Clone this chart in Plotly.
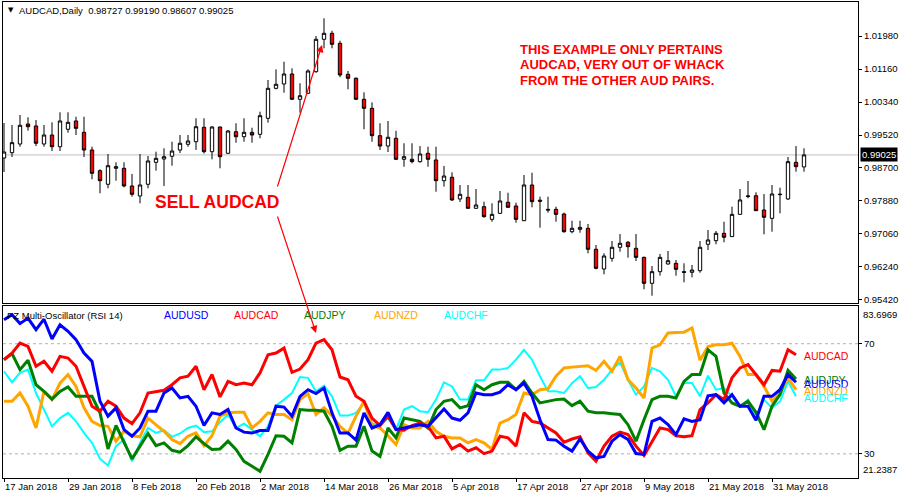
import plotly.graph_objects as go
import pandas as pd

# ---------------- data ----------------
dates = pd.bdate_range("2018-01-17", periods=101)
bar = list(range(len(dates)))

opens = [0.98948,0.99080,0.99296,0.99793,0.99744,0.99296,0.99520,0.99229,0.99662,0.99868,
         0.99587,0.99147,0.98633,0.98295,0.98692,0.98692,0.98253,0.98004,0.98295,0.98841,
         0.98923,0.98991,0.99147,0.99289,0.99353,0.99711,0.99105,0.99719,0.99065,0.99602,
         0.99478,0.99587,0.99537,0.99935,1.00680,1.00787,1.01036,1.00407,1.00556,1.01093,
         1.01898,1.02047,1.01799,1.01028,1.00929,1.00407,1.00183,0.99503,0.99246,0.99438,
         0.98916,0.98916,0.98857,0.99065,0.98899,0.98384,0.98469,0.97930,0.97971,0.97698,
         0.97739,0.97424,0.97573,0.97848,0.97756,0.97390,0.98277,0.97900,0.97673,0.97673,
         0.97557,0.97117,0.97176,0.97201,0.96680,0.96190,0.96455,0.96729,0.96854,0.96704,
         0.96480,0.95834,0.96123,0.96314,0.96331,0.96123,0.96108,0.96148,0.96804,0.96894,
         0.97077,0.96995,0.97548,0.97991,0.98011,0.97656,0.97449,0.98037,0.97930,0.98841,
         0.98727]
highs = [0.99818,0.99769,1.00017,0.99960,0.99893,0.99769,0.99835,1.00084,1.00084,0.99975,
         0.99975,0.99229,0.98668,0.99048,0.98841,0.98841,0.98551,0.99048,0.98998,0.99105,
         0.99189,0.99353,0.99520,0.99520,0.99935,0.99935,0.99744,0.99726,0.99644,0.99811,
         0.99935,0.99701,1.00099,1.00887,1.01152,1.01341,1.01177,1.00805,1.01152,1.01980,
         1.02420,1.02112,1.01863,1.01111,1.00954,1.00581,1.00332,0.99811,0.99868,0.99624,
         0.99314,0.99314,0.99246,0.99229,0.99229,0.98750,0.98593,0.98277,0.98277,0.98178,
         0.97863,0.97822,0.98128,0.98086,0.97838,0.98526,0.98583,0.97987,0.97987,0.97739,
         0.97589,0.97390,0.97390,0.97308,0.96786,0.96580,0.96886,0.97059,0.96886,0.97059,
         0.96496,0.96265,0.96563,0.96637,0.96414,0.96331,0.96290,0.96886,0.97159,0.97134,
         0.97365,0.97739,0.98178,0.98377,0.98096,0.98054,0.98277,0.98210,0.98973,0.99246,
         0.99190]
lows = [0.98600,0.98973,0.99229,0.99627,0.99246,0.99229,0.99122,0.99122,0.99577,0.99520,
        0.98973,0.98419,0.98071,0.98195,0.98384,0.98220,0.97987,0.97822,0.98195,0.98633,
        0.98253,0.98757,0.99073,0.99229,0.99147,0.99060,0.98916,0.98692,0.99060,0.99329,
        0.99353,0.99329,0.99438,0.99826,1.00655,1.00571,1.00390,1.00074,1.00539,1.01068,
        1.01674,1.01674,1.00954,1.00655,1.00390,0.99662,0.99353,0.99147,0.99097,0.98899,
        0.98732,0.98816,0.98832,0.98732,0.98111,0.98236,0.97880,0.97855,0.97681,0.97686,
        0.97465,0.97365,0.97561,0.97711,0.97340,0.97383,0.97723,0.97217,0.97589,0.97365,
        0.97092,0.97077,0.97092,0.96580,0.96182,0.96058,0.96372,0.96620,0.96471,0.96389,
        0.95685,0.95526,0.96024,0.96302,0.96024,0.95859,0.95983,0.96098,0.96662,0.96804,
        0.96854,0.96987,0.97536,0.97947,0.97639,0.97052,0.97117,0.97574,0.97905,0.98608,
        0.98607]
closes = [0.99097,0.99329,0.99761,0.99726,0.99314,0.99520,0.99229,0.99868,0.99835,0.99686,
          0.99147,0.98568,0.98384,0.98757,0.98732,0.98253,0.98046,0.98277,0.98874,0.98940,
          0.98981,0.99122,0.99314,0.99371,0.99726,0.99105,0.99719,0.98981,0.99619,0.99478,
          0.99587,0.99520,1.00000,1.00680,1.00780,1.01036,1.00407,1.00496,1.01111,1.01898,
          1.02047,1.01774,1.01011,1.00929,1.00407,1.00183,0.99503,0.99246,0.99463,0.98916,
          0.98981,0.98857,0.99048,0.98916,0.98384,0.98501,0.97905,0.98046,0.97698,0.97780,
          0.97490,0.97548,0.97880,0.97723,0.97424,0.98277,0.97863,0.97875,0.97656,0.97548,
          0.97117,0.97201,0.97225,0.96680,0.96207,0.96513,0.96729,0.96829,0.96745,0.96480,
          0.95834,0.96123,0.96480,0.96396,0.96182,0.96108,0.96165,0.96729,0.96911,0.97077,
          0.96978,0.97548,0.97905,0.98004,0.97639,0.97475,0.98054,0.98046,0.98857,0.98732,
          0.99025]

rsi_audusd = [78.7,80.5,77.3,79.3,75.1,78.9,71.7,76.9,74.5,71.5,
              66.6,63.6,49.1,43.7,46.7,38.8,36.4,39.4,45.5,45.5,
              52.1,53.9,50.3,50.9,47.3,40.3,44.9,44.3,46.1,39.4,
              37.9,37.6,38.5,38.5,47.3,47.0,43.7,50.9,53.3,51.9,
              53.9,44.9,37.6,37.6,35.0,44.9,39.4,40.6,45.1,38.8,
              39.4,40.0,40.6,40.0,43.0,46.3,43.0,42.2,44.9,52.1,
              51.5,51.5,52.4,55.1,53.3,55.7,50.9,42.4,35.2,35.0,
              32.8,31.0,35.4,31.0,28.5,29.1,34.6,37.0,35.2,30.1,
              29.8,41.8,43.0,40.6,37.0,42.7,41.8,42.4,51.1,51.5,
              48.5,51.5,47.3,47.3,42.2,50.9,50.9,53.3,58.8,56.0]
rsi_audcad = [64.2,66.6,70.2,69.0,61.8,63.6,60.0,65.4,64.8,61.8,
              54.5,47.3,45.5,49.1,47.3,43.0,41.0,44.9,52.1,52.7,
              53.1,55.1,57.6,58.2,61.8,53.3,58.8,50.7,56.3,55.1,
              55.7,55.1,59.4,66.0,66.6,68.4,59.6,60.8,64.2,70.2,
              71.5,67.8,57.9,56.9,50.9,49.1,43.0,40.3,43.7,38.8,
              38.6,40.3,41.2,40.0,35.8,36.4,31.8,33.4,31.0,32.2,
              30.1,31.0,36.4,35.8,32.8,44.9,41.8,41.2,39.4,37.6,
              34.2,35.4,36.2,30.4,27.3,32.8,36.4,37.9,37.0,32.8,
              29.4,34.6,39.4,38.8,36.6,36.2,36.6,46.1,48.5,51.5,
              49.7,57.6,61.2,62.4,58.8,55.1,60.3,60.0,67.8,66.0]
rsi_audjpy = [64.2,66.4,60.6,64.0,55.1,52.7,49.9,52.7,54.3,50.9,
              50.9,50.9,44.9,31.8,40.3,34.0,28.2,32.8,37.4,33.0,
              34.0,31.3,30.6,33.0,36.2,33.7,31.6,31.8,34.6,31.6,
              27.3,25.5,23.7,29.8,36.6,36.4,34.0,46.1,45.8,45.8,
              45.5,40.0,31.3,32.8,32.8,40.0,31.0,29.1,39.4,35.8,
              43.0,42.4,41.8,39.4,46.1,49.1,49.7,46.7,47.5,55.1,
              53.3,55.1,56.0,56.0,53.3,56.3,52.1,48.5,49.1,49.7,
              49.9,47.5,49.1,45.5,44.9,44.9,44.6,44.3,40.6,34.6,
              42.4,49.7,50.9,50.9,50.3,56.3,58.8,58.8,67.8,65.4,
              52.1,48.5,47.3,49.1,45.1,38.8,47.3,51.5,60.3,57.2]
rsi_audnzd = [49.1,49.1,52.1,47.3,39.4,52.7,49.7,55.7,58.8,54.5,
              46.7,41.8,40.3,40.0,34.6,38.2,36.6,36.2,43.0,40.6,
              38.2,35.2,33.7,36.4,37.6,33.0,36.6,43.7,44.9,45.1,
              45.1,39.4,41.8,44.9,44.3,44.3,42.4,49.7,51.9,44.3,
              46.7,43.9,40.0,37.4,43.7,49.1,40.3,39.4,36.6,33.4,
              40.6,39.4,39.4,41.8,38.2,36.4,35.8,35.8,34.0,35.2,
              34.0,31.6,41.2,42.4,44.3,52.1,51.5,53.3,53.6,58.2,
              61.2,61.5,61.8,62.0,60.3,63.6,60.0,65.4,56.9,53.9,
              50.3,68.4,69.6,73.9,74.1,74.2,75.7,64.0,69.0,69.6,
              69.6,70.2,65.4,58.8,58.8,54.5,49.1,52.1,57.6,53.3]
rsi_audchf = [60.0,56.0,59.4,60.6,52.1,46.1,40.0,43.0,44.9,41.8,
              37.6,34.0,28.2,25.8,32.8,35.2,27.3,34.0,39.4,37.6,
              38.6,36.2,37.4,39.4,40.3,37.9,38.2,41.5,44.3,39.4,
              41.0,38.8,36.4,40.0,47.5,49.7,52.1,57.9,57.6,52.7,
              54.8,50.9,43.9,43.9,44.9,48.5,41.0,40.3,43.0,38.8,
              46.1,47.3,45.5,45.1,49.7,56.0,54.5,49.7,49.7,56.7,
              56.7,60.6,60.6,61.2,64.2,67.8,64.2,58.2,52.7,52.7,
              52.1,55.7,58.2,53.9,54.3,56.9,60.6,63.2,56.9,51.5,
              54.5,61.2,60.0,56.9,50.9,55.7,55.7,50.9,58.4,53.3,
              53.9,50.9,47.0,49.7,43.7,49.7,46.7,49.1,56.3,50.9]

series_names = ["AUDUSD", "AUDCAD", "AUDJPY", "AUDNZD", "AUDCHF"]
series_colors = ["#0000FF", "#FF0000", "#008000", "#FFA500", "#00FFFF"]
series_values = [rsi_audusd, rsi_audcad, rsi_audjpy, rsi_audnzd, rsi_audchf]

tick_idx = [0, 8, 16, 24, 32, 40, 48, 56, 64, 72, 80, 88, 96]
tick_labels = ["17 Jan 2018", "29 Jan 2018", "8 Feb 2018", "20 Feb 2018", "2 Mar 2018",
               "14 Mar 2018", "26 Mar 2018", "5 Apr 2018", "17 Apr 2018", "27 Apr 2018",
               "9 May 2018", "21 May 2018", "31 May 2018"]
price_ticks = [0.95420, 0.96240, 0.97060, 0.97880, 0.98700, 0.99520, 1.00340, 1.01160, 1.01980]
osc_min, osc_max = 21.2387, 83.6969
last_price = 0.99025

# ---------------- layout helpers ----------------
W, H = 900, 500
ML, MR, MT, MB = 3, 42, 2, 22
PW, PH = W - ML - MR, H - MT - MB


def px(x):
    return (x - ML) / PW


def py(y):
    return (H - MB - y) / PH


FONT = "Liberation Sans, Arial, sans-serif"
TS = 9.5

fig = go.Figure()

fig.add_trace(go.Candlestick(
    x=bar, open=opens, high=highs, low=lows, close=closes,
    increasing=dict(line=dict(color="black", width=1), fillcolor="white"),
    decreasing=dict(line=dict(color="black", width=1), fillcolor="#FF0000"),
    whiskerwidth=0, hoverinfo="skip", xaxis="x", yaxis="y", showlegend=False))

draw_order = [4, 3, 2, 1, 0]
for k in draw_order:
    vals = series_values[k]
    fig.add_trace(go.Scatter(
        x=bar[:len(vals)], y=vals, mode="lines",
        line=dict(color=series_colors[k], width=2 if k == 4 else 3),
        xaxis="x2", yaxis="y2", showlegend=False, hoverinfo="skip"))

xr = [-0.125, 106.75]
common = dict(showgrid=False, zeroline=False, showline=True, mirror=True,
              linecolor="black", linewidth=1, automargin=False)
fig.update_layout(
    width=W, height=H, margin=dict(l=ML, r=MR, t=MT, b=MB, autoexpand=False),
    paper_bgcolor="white", plot_bgcolor="white",
    font=dict(family=FONT, size=TS, color="black"),
    boxgap=0.4,
    xaxis=dict(domain=[0, 1], range=xr, anchor="y", showticklabels=False, ticks="",
               rangeslider=dict(visible=False), **common),
    yaxis=dict(domain=[(H - MB - 303) / PH, 1], range=[0.95345, 1.02825], side="right",
               anchor="x", tickvals=price_ticks, ticktext=[f"{v:.5f}" for v in price_ticks],
               ticks="outside", ticklen=3, tickcolor="black",
               tickfont=dict(family=FONT, size=TS), **common),
    xaxis2=dict(domain=[0, 1], range=xr, anchor="y2", tickvals=tick_idx, ticktext=tick_labels,
                ticks="outside", ticklen=3, tickcolor="black", ticklabelposition="outside right",
                tickangle=0, tickfont=dict(family=FONT, size=TS), **common),
    yaxis2=dict(domain=[0, (H - MB - 306) / PH], range=[osc_min, osc_max], side="right",
                anchor="x2", tickvals=[30, 70], ticktext=["30", "70"], ticks="outside",
                ticklen=3, tickcolor="black", tickfont=dict(family=FONT, size=TS), **common),
)

shapes = []
for lv in (30, 70):
    shapes.append(dict(type="line", xref="x2 domain", yref="y2", x0=0, x1=1, y0=lv, y1=lv,
                       line=dict(color="#B0B0B0", width=1, dash="3px,3px"), layer="below"))
shapes.append(dict(type="line", xref="x domain", yref="y", x0=0, x1=1, y0=last_price, y1=last_price,
                   line=dict(color="#C0C0C0", width=1), layer="below"))
fig.update_layout(shapes=shapes)

ann = []
# header
ann.append(dict(x=px(6), y=py(10), xref="paper", yref="paper", xanchor="left", yanchor="middle",
                text="▼", showarrow=False, font=dict(family="DejaVu Sans", size=7, color="black")))
ann.append(dict(x=px(17), y=py(10), xref="paper", yref="paper", xanchor="left", yanchor="middle",
                text=f"AUDCAD,Daily  {opens[-1]:.5f} {highs[-1]:.5f} {lows[-1]:.5f} {closes[-1]:.5f}",
                showarrow=False, font=dict(family=FONT, size=TS, color="black")))
# current price box
ann.append(dict(x=1, y=last_price, xref="paper", yref="y", xanchor="left", yanchor="middle",
                xshift=2, text=f"{last_price:.5f}", showarrow=False, bgcolor="black",
                font=dict(family=FONT, size=TS, color="white"), borderpad=1))
# osc extremes
ann.append(dict(x=1, y=osc_max, xref="paper", yref="y2", xanchor="left", yanchor="top",
                xshift=3, yshift=-1, text=f"{osc_max:.4f}", showarrow=False,
                font=dict(family=FONT, size=TS, color="black")))
ann.append(dict(x=1, y=osc_min, xref="paper", yref="y2", xanchor="left", yanchor="bottom",
                xshift=3, yshift=1, text=f"{osc_min:.4f}", showarrow=False,
                font=dict(family=FONT, size=TS, color="black")))
# oscillator legend
ann.append(dict(x=px(5), y=py(315), xref="paper", yref="paper", xanchor="left", yanchor="middle",
                text="PZ Multi-Oscillator (RSI 14)", showarrow=False,
                font=dict(family=FONT, size=TS, color="black")))
leg_x = [162, 232, 302, 372, 442]
for k in range(5):
    ann.append(dict(x=px(leg_x[k]), y=py(315), xref="paper", yref="paper", xanchor="left",
                    yanchor="middle", text=series_names[k], showarrow=False,
                    font=dict(family=FONT, size=10.5, color=series_colors[k])))
# right-end labels
end_y = [384, 356, 380, 391, 398]
for k in [2, 0, 3, 4, 1]:
    ann.append(dict(x=px(802), y=py(end_y[k]), xref="paper", yref="paper", xanchor="left",
                    yanchor="middle", text=series_names[k], showarrow=False,
                    font=dict(family=FONT, size=10.5, color=series_colors[k])))
# red notes
note_lines = ["THIS EXAMPLE ONLY PERTAINS", "AUDCAD, VERY OUT OF WHACK", "FROM THE OTHER AUD PAIRS."]
for j, t in enumerate(note_lines):
    ann.append(dict(x=px(518), y=py(49.5 + 15.5 * j), xref="paper", yref="paper", xanchor="left",
                    yanchor="middle", text=f"<b>{t}</b>", showarrow=False,
                    font=dict(family=FONT, size=13, color="#FF0000")))
ann.append(dict(x=px(153), y=py(202), xref="paper", yref="paper", xanchor="left", yanchor="middle",
                text="<b>SELL AUDCAD</b>", showarrow=False,
                font=dict(family=FONT, size=17.5, color="#FF0000")))
# arrows
ann.append(dict(x=px(322), y=py(45), xref="paper", yref="paper", ax=-45, ay=143, text="",
                showarrow=True, arrowhead=2, arrowsize=1.2, arrowwidth=1.2, arrowcolor="#FF0000",
                standoff=0, startstandoff=0))
ann.append(dict(x=px(316), y=py(333), xref="paper", yref="paper", ax=-39, ay=-118, text="",
                showarrow=True, arrowhead=2, arrowsize=1.2, arrowwidth=1.2, arrowcolor="#FF0000",
                standoff=0, startstandoff=0))
fig.update_layout(annotations=ann)

fig.write_html("out.html", config={"displayModeBar": False},
               post_script="document.body.style.margin='0px';")
